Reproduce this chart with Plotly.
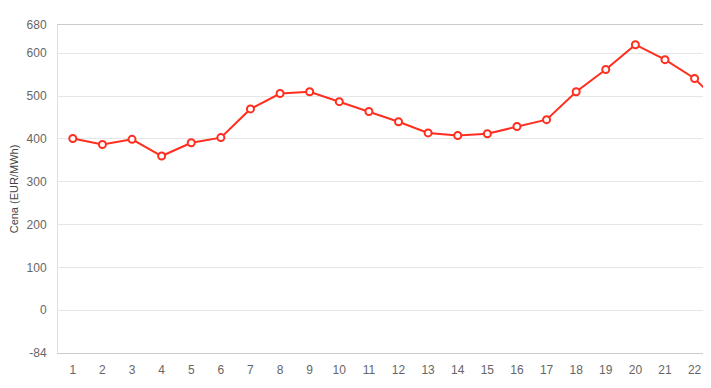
import plotly.graph_objects as go

hours = list(range(1, 24))
prices = [401, 387, 399, 360, 391, 403, 470, 506, 510, 487, 464, 440, 414, 408,
          412, 429, 445, 510, 562, 620, 585, 541, 472]

y_tick_vals = [-100, 0, 100, 200, 300, 400, 500, 600, 666]
y_tick_text = ["-84", "0", "100", "200", "300", "400", "500", "600", "680"]
x_tick_vals = list(range(1, 23))
x_tick_text = [str(h) for h in x_tick_vals]

RED = "#ff2e1f"

fig = go.Figure()
fig.add_trace(go.Scatter(
    x=hours, y=prices, mode="lines+markers",
    line=dict(color=RED, width=2),
    marker=dict(symbol="circle", size=7, color="white",
                line=dict(color=RED, width=2)),
    cliponaxis=True, showlegend=False,
))

# page body has an 8px margin; size the figure so no scrollbars appear
fig.update_layout(
    width=703, height=372,
    margin=dict(l=50, r=1, t=17, b=27, autoexpand=False),
    paper_bgcolor="white", plot_bgcolor="white",
    font=dict(family="Liberation Sans, Arial, sans-serif", color="#666666", size=12),
    xaxis=dict(
        range=[0.5, 22.52], tickmode="array", tickvals=x_tick_vals, ticktext=x_tick_text,
        showgrid=False, zeroline=False, showline=True, linecolor="#cccccc", linewidth=1,
        mirror=True, ticks="", ticklabelstandoff=6, automargin=False,
        tickfont=dict(size=12, color="#666666"),
    ),
    yaxis=dict(
        range=[-100, 666], tickmode="array", tickvals=y_tick_vals, ticktext=y_tick_text,
        showgrid=True, gridcolor="#e6e6e6", gridwidth=1, zeroline=False,
        showline=True, linecolor="#e0e0e0", linewidth=1, mirror=True, ticks="",
        ticklabelstandoff=8, automargin=False,
        title=dict(text="Cena (EUR/MWh)", font=dict(size=11, color="#444444"), standoff=14),
        tickfont=dict(size=12, color="#666666"),
    ),
)

fig.write_html("out.html")
